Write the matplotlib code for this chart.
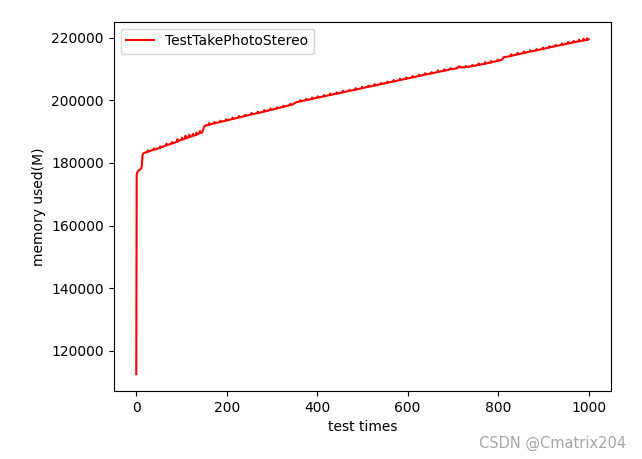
import matplotlib
matplotlib.use('Agg')
import matplotlib.pyplot as plt

# memory readings per test run
times = [0, 1, 2, 4, 7, 9, 11, 12, 13, 14, 16,
	24, 25, 26, 38, 39, 40, 52, 53, 54, 66, 67, 68, 78, 79, 80, 90, 91, 92,
	100, 101, 102, 108, 109, 110, 116, 117, 118, 124, 125, 126, 132, 133, 134,
	140, 141, 142, 146, 148, 150, 152,
	160, 161, 162, 172, 173, 174, 185, 186, 187, 198, 199, 200, 212, 213, 214,
	226, 227, 228, 240, 241, 242, 254, 255, 256, 268, 269, 270, 282, 283, 284,
	296, 297, 298, 310, 311, 312, 324, 325, 326, 340, 341, 342, 346, 350, 354,
	362, 363, 364, 375, 376, 377, 388, 389, 390, 400, 401, 402, 414, 415, 416,
	428, 429, 430, 442, 443, 444, 456, 457, 458, 470, 471, 472, 484, 485, 486,
	498, 499, 500, 512, 513, 514, 526, 527, 528, 540, 541, 542, 554, 555, 556,
	568, 569, 570, 582, 583, 584, 596, 597, 598, 610, 611, 612, 624, 625, 626,
	638, 639, 640, 652, 653, 654, 666, 667, 668, 680, 681, 682, 694, 695, 696,
	708, 712, 714, 716, 728, 729, 730, 742, 743, 744, 756, 757, 758,
	770, 771, 772, 784, 785, 786, 798, 799, 800, 808, 812, 814, 816,
	828, 829, 830, 842, 843, 844, 856, 857, 858, 870, 871, 872, 884, 885, 886,
	898, 899, 900, 912, 913, 914, 926, 927, 928, 940, 941, 942, 954, 955, 956,
	966, 967, 968, 978, 979, 980, 988, 989, 990, 996, 997, 998, 1000]

memory = [112500, 176300, 176900, 177400, 177800, 178000, 178300, 178900, 180500, 182600, 183100,
	183500, 184000, 183600, 184200, 184700, 184250, 184800, 185300, 184900, 185600, 186200, 185650,
	186200, 186700, 186250, 186800, 187600, 186900,
	187400, 188100, 187450, 187800, 188700, 187900, 188200, 189000, 188300, 188600, 189300, 188700,
	189000, 189700, 189100,
	189500, 190200, 189550, 189800, 190600, 191500, 191900,
	192200, 192700, 192250, 192600, 193100, 192700, 193100, 193500, 193150, 193500, 194000, 193600,
	194000, 194500, 194050,
	194500, 195000, 194550, 195000, 195400, 195050, 195500, 196000, 195550, 195900, 196400, 195950,
	196400, 196900, 196450,
	196900, 197400, 196950, 197400, 197800, 197450, 197900, 198300, 197950, 198500, 198900, 198550,
	198700, 199100, 199400,
	199650, 200100, 199700, 200050, 200500, 200100, 200450, 200900, 200500, 200850, 201300, 200900,
	201250, 201700, 201300,
	201700, 202200, 201750, 202100, 202600, 202150, 202550, 203100, 202600, 203000, 203400, 203050,
	203400, 203900, 203450,
	203850, 204300, 203900, 204300, 204700, 204350, 204700, 205200, 204750, 205150, 205600, 205200,
	205600, 206000, 205650,
	206000, 206500, 206050, 206450, 206900, 206500, 206900, 207300, 206950, 207300, 207800, 207350,
	207750, 208200, 207800,
	208200, 208700, 208250, 208600, 209000, 208650, 209050, 209600, 209100, 209450, 209900, 209500,
	209900, 210300, 209950,
	210200, 210600, 210900, 210500, 210600, 211000, 210650, 210900, 211300, 210950, 211300, 211800, 211350,
	211700, 212200, 211750, 212100, 212600, 212150, 212600, 213000, 212650, 212900, 213700, 213900, 213800,
	214200, 214700, 214250, 214650, 215200, 214700, 215100, 215600, 215150, 215550, 216000, 215600,
	215950, 216400, 216000,
	216400, 216900, 216450, 216850, 217300, 216900, 217300, 217700, 217350, 217700, 218200, 217750,
	218150, 218700, 218200,
	218500, 219000, 218550, 218850, 219400, 218900, 219100, 219700, 219150, 219300, 219800, 219350, 219500]

fig = plt.figure(figsize=(6.42, 4.59), dpi=100)
fig.subplots_adjust(left=0.177, right=0.952, bottom=0.148, top=0.953)
ax = fig.add_subplot(111)

ax.plot(times, memory, 'r', linewidth=1.5, label='TestTakePhotoStereo')
ax.set_xlabel('test times')
ax.set_ylabel('memory used(M)')
ax.legend(loc='upper left')

fig.text(0.975, 0.035, 'CSDN @Cmatrix204', color='#a6a6a6', fontsize=10.5,
	ha='right', va='center')

fig.savefig('out.png', dpi=100)
